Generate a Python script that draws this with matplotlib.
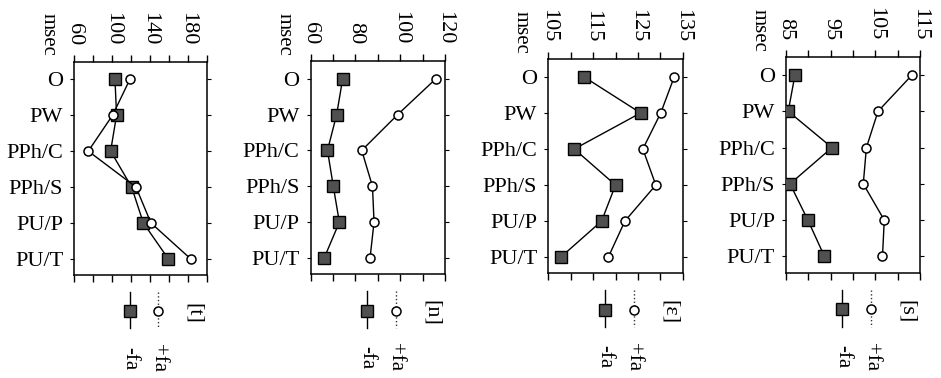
import matplotlib
matplotlib.use('Agg')
import matplotlib.pyplot as plt

plt.rcParams['font.family'] = ['Liberation Serif', 'DejaVu Serif']
plt.rcParams['font.size'] = 16

categories = ['O', 'PW', 'PPh/C', 'PPh/S', 'PU/P', 'PU/T']

# one panel per consonant, values in msec
panel_names = ['[t]', '[n]', '[ε]', '[s]']

t_minus = [103.0, 104.7, 98.4, 120.6, 133.0, 159.4]
t_plus = [118.8, 100.5, 74.8, 125.2, 141.0, 183.0]

n_minus = [74.3, 71.6, 67.5, 70.1, 72.8, 66.0]
n_plus = [116.0, 98.9, 82.8, 87.6, 88.3, 86.5]

e_minus = [113.0, 125.6, 110.8, 120.0, 116.9, 107.8]
e_plus = [133.1, 130.1, 126.1, 129.0, 122.1, 118.4]

s_minus = [87.0, 85.5, 95.3, 85.9, 89.9, 93.6]
s_plus = [113.2, 105.6, 103.0, 102.3, 107.0, 106.6]

# axis ranges and tick steps (labelled, unlabelled)
x_limits = [(60, 200), (60, 120), (105, 135), (85, 115)]
x_steps = [(40, 20), (20, 10), (10, 5), (10, 5)]

minus_series = [t_minus, n_minus, e_minus, s_minus]
plus_series = [t_plus, n_plus, e_plus, s_plus]

# panel frames in pixels: left, right, top, bottom (scan is slightly skewed)
frames = [(74.3, 206.7, 61.7, 275.0),
          (310.7, 445.0, 61.0, 274.3),
          (548.3, 682.7, 59.3, 273.3),
          (786.0, 920.0, 57.3, 272.7)]

W, H = 941, 378
fig = plt.figure(figsize=(W / 100, H / 100), dpi=100)

sq_style = dict(marker='s', markersize=8, markerfacecolor='#505050',
                markeredgecolor='black', markeredgewidth=1.0)
ci_style = dict(marker='o', markersize=6.5, markerfacecolor='white',
                markeredgecolor='black', markeredgewidth=1.1)

for i in range(4):
    l, r, t, b = frames[i]
    ax = fig.add_axes([l / W, 1 - b / H, (r - l) / W, (b - t) / H])
    pos = list(range(len(categories)))

    ax.plot(minus_series[i], pos, color='black', lw=1.0, **sq_style, zorder=3)
    ax.plot(plus_series[i], pos, color='black', lw=1.0, **ci_style, zorder=3)

    lo, hi = x_limits[i]
    major, minor = x_steps[i]
    ax.set_xlim(lo, hi)
    ax.set_xticks(list(range(lo, hi + 1, major)))
    ax.set_xticks([v for v in range(lo, hi + 1, minor) if (v - lo) % major != 0], minor=True)
    ax.xaxis.set_ticks_position('both')
    ax.tick_params(axis='x', which='both', top=True, bottom=True, labeltop=True,
                   labelbottom=False, direction='out', length=5, width=1.0, pad=7)
    for lab in ax.get_xticklabels():
        lab.set_rotation(-90)

    ax.set_ylim(5.45, -0.49)
    ax.set_yticks(pos)
    ax.set_yticklabels(categories)
    ax.tick_params(axis='y', which='both', left=True, right=True, direction='out',
                   length=3, width=0.8, pad=5)

    for sp in ax.spines.values():
        sp.set_linewidth(1.1)

    ax.text(-0.2, 1.025, 'msec', transform=ax.transAxes, rotation=-90,
            ha='center', va='bottom', fontsize=15)

    # rotated legend underneath
    ax.plot([0.42, 0.42], [-0.08, -0.25], transform=ax.transAxes, color='black',
            lw=1.0, clip_on=False)
    ax.plot([0.42], [-0.17], transform=ax.transAxes, clip_on=False, **sq_style)
    ax.plot([0.635, 0.635], [-0.08, -0.25], transform=ax.transAxes, color='#333333',
            lw=1.0, ls=':', clip_on=False)
    ax.plot([0.635], [-0.17], transform=ax.transAxes, clip_on=False, **ci_style)
    ax.text(0.42, -0.39, '-fa', transform=ax.transAxes, rotation=-90,
            ha='center', va='center', fontsize=15)
    ax.text(0.635, -0.39, '+fa', transform=ax.transAxes, rotation=-90,
            ha='center', va='center', fontsize=15)
    ax.text(0.9, -0.18, panel_names[i], transform=ax.transAxes, rotation=-90,
            ha='center', va='center', fontsize=16)

fig.savefig('out.png', dpi=100)
